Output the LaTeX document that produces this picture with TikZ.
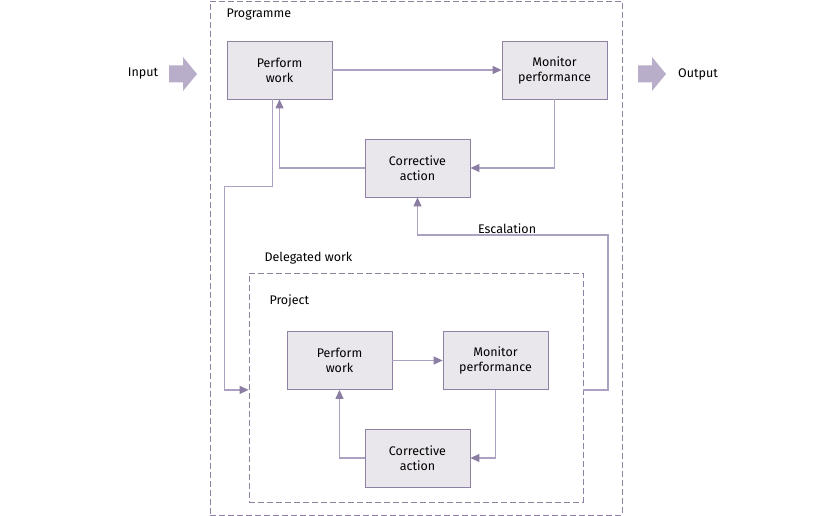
\documentclass[tikz,border=0pt]{standalone}
\usepackage{fontspec}
\setmainfont{Fira Sans}
\usepackage{xcolor}
\usetikzlibrary{arrows.meta, positioning, calc}
\definecolor{boxfill}{RGB}{233,231,236}
\definecolor{boxline}{RGB}{142,129,164}
\definecolor{flowline}{RGB}{172,161,192}
\definecolor{tipcol}{RGB}{140,125,163}
\definecolor{bigarrowcol}{RGB}{184,174,201}

\tikzset{
    stepbox/.style={draw=boxline, fill=boxfill, line width=0.8pt, minimum width=105pt, minimum height=58pt, align=center, font=\fontsize{12.5}{15}\selectfont},
    dashbox/.style={draw=boxline, line width=0.8pt, dash pattern=on 6pt off 3pt},
    flow/.style={draw=flowline, line width=1.2pt, -{Triangle[length=9pt, width=8pt, color=tipcol]}},
    lbl/.style={font=\fontsize{12.5}{14}\selectfont}
}

\begin{document}
\begin{tikzpicture}[x=1pt, y=-1pt]
    \useasboundingbox[fill=white] (0,0) rectangle (840,516);

    % containers
    \node[dashbox, minimum width=412pt, minimum height=514pt] (prog) at (416,258) {};
    \node[dashbox, minimum width=334pt, minimum height=229pt] (proj) at (416,387.5) {};
    \node[lbl, anchor=west] (progname) at (223,15) {Programme};
    \node[lbl, anchor=west] (delname) at (261,258) {Delegated work};
    \node[lbl, anchor=west] (projname) at (266,301) {Project};

    % programme level
    \node[stepbox] (pw1) at (279.5,70) {Perform\\work};
    \node[stepbox] (mp1) at (554.5,70) {Monitor\\performance};
    \node[stepbox] (ca1) at (417.5,168) {Corrective\\action};

    % project level
    \node[stepbox] (pw2) at (339.5,360.5) {Perform\\work};
    \node[stepbox] (mp2) at (495.5,360.5) {Monitor\\performance};
    \node[stepbox] (ca2) at (417.5,458) {Corrective\\action};

    % input / output
    \foreach \ax in {169,638}
        \fill[bigarrowcol] (\ax,65.5) -- ++(14,0) -- ++(0,-8.5) -- ++(14,17) -- ++(-14,17) -- ++(0,-8.5) -- ++(-14,0) -- cycle;
    \node[lbl] (inname) at (143,74) {Input};
    \node[lbl] (outname) at (698,74) {Output};

    \draw[flow] (pw1) -- (mp1);
    \draw[flow] (mp1.south) |- (ca1.east);
    \draw[flow] (ca1.west) -| (pw1.south);
    \draw[flow] ([xshift=-7pt]pw1.south) -- ++(0,87) -- ++(-48,0) |- (proj.west |- pw2.south);

    \coordinate (esc) at (608,235);
    \draw[flow] (proj.east |- pw2.south) -| (esc) -- node[lbl, above, pos=0.53, inner sep=1pt] (escname) {Escalation} (ca1.south |- esc) -- (ca1.south);

    \draw[flow] (pw2) -- (mp2);
    \draw[flow] (mp2.south) |- (ca2.east);
    \draw[flow] (ca2.west) -| (pw2.south);
\end{tikzpicture}
\end{document}
